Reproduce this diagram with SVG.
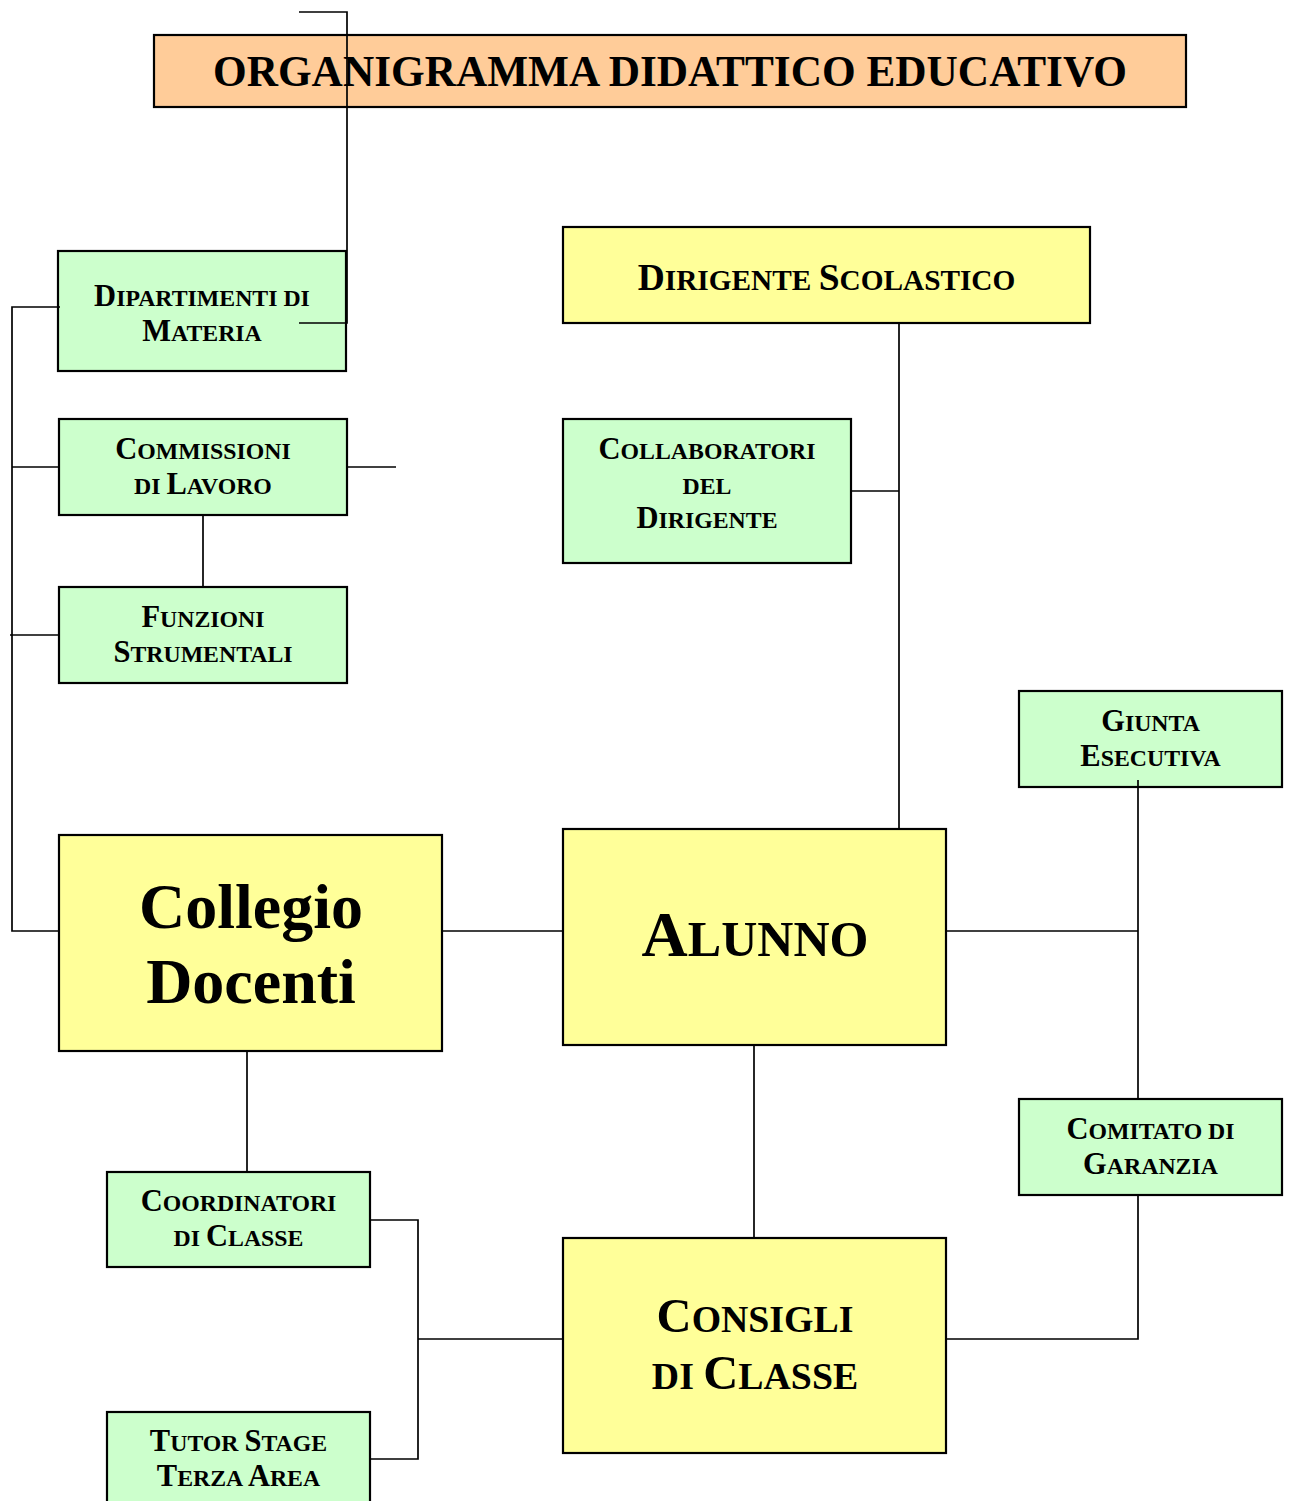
<svg xmlns="http://www.w3.org/2000/svg" width="1290" height="1501" viewBox="0 0 1290 1501">
  <style>
    .box { stroke: #000; stroke-width: 2.2; }
    .green { fill: #CCFFCC; }
    .yellow { fill: #FFFF99; }
    .orange { fill: #FFCC99; }
    text { font-family: "Liberation Serif", "Times New Roman", serif; font-weight: bold; fill: #000; text-anchor: middle; }
    .t { font-size: 43.3px; }
    .g { font-size: 30.5px; }
    .g .s { font-size: 23.8px; }
    .d { font-size: 37.5px; }
    .d .s { font-size: 29.3px; }
    .a { font-size: 64px; }
    .a .s { font-size: 50px; }
    .c { font-size: 48.5px; }
    .c .s { font-size: 37.8px; }
    .cd { font-size: 64px; }
    .links { fill: none; stroke: #000; stroke-width: 1.7; }
  </style>

  <g id="title">
    <rect class="box orange" x="154" y="35" width="1032" height="72"/>
    <text class="t" x="670" y="86">ORGANIGRAMMA DIDATTICO EDUCATIVO</text>
  </g>

  <g id="dipartimenti">
    <rect class="box green" x="58" y="251" width="288" height="120"/>
    <text class="g" x="202" y="306"><tspan>D</tspan><tspan class="s">IPARTIMENTI DI</tspan></text>
    <text class="g" x="202" y="341"><tspan>M</tspan><tspan class="s">ATERIA</tspan></text>
  </g>

  <g id="commissioni">
    <rect class="box green" x="59" y="419" width="288" height="96"/>
    <text class="g" x="203" y="459"><tspan>C</tspan><tspan class="s">OMMISSIONI</tspan></text>
    <text class="g" x="203" y="494"><tspan class="s">DI </tspan><tspan>L</tspan><tspan class="s">AVORO</tspan></text>
  </g>

  <g id="funzioni">
    <rect class="box green" x="59" y="587" width="288" height="96"/>
    <text class="g" x="203" y="627"><tspan>F</tspan><tspan class="s">UNZIONI</tspan></text>
    <text class="g" x="203" y="662"><tspan>S</tspan><tspan class="s">TRUMENTALI</tspan></text>
  </g>

  <g id="dirigente">
    <rect class="box yellow" x="563" y="227" width="527" height="96"/>
    <text class="d" x="826.5" y="290"><tspan>D</tspan><tspan class="s">IRIGENTE </tspan><tspan>S</tspan><tspan class="s">COLASTICO</tspan></text>
  </g>

  <g id="collaboratori">
    <rect class="box green" x="563" y="419" width="288" height="144"/>
    <text class="g" x="707" y="459"><tspan>C</tspan><tspan class="s">OLLABORATORI</tspan></text>
    <text class="g" x="707" y="494"><tspan class="s">DEL</tspan></text>
    <text class="g" x="707" y="528"><tspan>D</tspan><tspan class="s">IRIGENTE</tspan></text>
  </g>

  <g id="giunta">
    <rect class="box green" x="1019" y="691" width="263" height="96"/>
    <text class="g" x="1150.5" y="731"><tspan>G</tspan><tspan class="s">IUNTA</tspan></text>
    <text class="g" x="1150.5" y="766"><tspan>E</tspan><tspan class="s">SECUTIVA</tspan></text>
  </g>

  <g id="collegio">
    <rect class="box yellow" x="59" y="835" width="383" height="216"/>
    <text class="cd" x="251" y="928">Collegio</text>
    <text class="cd" x="251" y="1003">Docenti</text>
  </g>

  <g id="alunno">
    <rect class="box yellow" x="563" y="829" width="383" height="216"/>
    <text class="a" x="755" y="956"><tspan>A</tspan><tspan class="s">LUNNO</tspan></text>
  </g>

  <g id="comitato">
    <rect class="box green" x="1019" y="1099" width="263" height="96"/>
    <text class="g" x="1150.5" y="1139"><tspan>C</tspan><tspan class="s">OMITATO DI</tspan></text>
    <text class="g" x="1150.5" y="1174"><tspan>G</tspan><tspan class="s">ARANZIA</tspan></text>
  </g>

  <g id="coordinatori">
    <rect class="box green" x="107" y="1172" width="263" height="95"/>
    <text class="g" x="238.5" y="1211"><tspan>C</tspan><tspan class="s">OORDINATORI</tspan></text>
    <text class="g" x="238.5" y="1246"><tspan class="s">DI </tspan><tspan>C</tspan><tspan class="s">LASSE</tspan></text>
  </g>

  <g id="consigli">
    <rect class="box yellow" x="563" y="1238" width="383" height="215"/>
    <text class="c" x="755" y="1332"><tspan>C</tspan><tspan class="s">ONSIGLI</tspan></text>
    <text class="c" x="755" y="1389"><tspan class="s">DI </tspan><tspan>C</tspan><tspan class="s">LASSE</tspan></text>
  </g>

  <g id="tutor">
    <rect class="box green" x="107" y="1412" width="263" height="96"/>
    <text class="g" x="238.5" y="1451"><tspan>T</tspan><tspan class="s">UTOR </tspan><tspan>S</tspan><tspan class="s">TAGE</tspan></text>
    <text class="g" x="238.5" y="1486"><tspan>T</tspan><tspan class="s">ERZA </tspan><tspan>A</tspan><tspan class="s">REA</tspan></text>
  </g>

  <!-- connectors, drawn over the boxes -->
  <g id="connectors" class="links">
    <path d="M299,12 H347 V323 H299"/>
    <path d="M60,307 H12 V931 H59"/>
    <path d="M12,467 H59"/>
    <path d="M10,635 H59"/>
    <path d="M347,467 H396"/>
    <path d="M203,515 V588"/>
    <path d="M899,323 V829"/>
    <path d="M851,491 H899"/>
    <path d="M442,931 H563"/>
    <path d="M946,931 H1138"/>
    <path d="M1138,780 V1099"/>
    <path d="M1138,1195 V1339 H946"/>
    <path d="M754,1045 V1238"/>
    <path d="M247,1051 V1172"/>
    <path d="M370,1220 H418 V1459 H370"/>
    <path d="M418,1339 H563"/>
  </g>
</svg>
